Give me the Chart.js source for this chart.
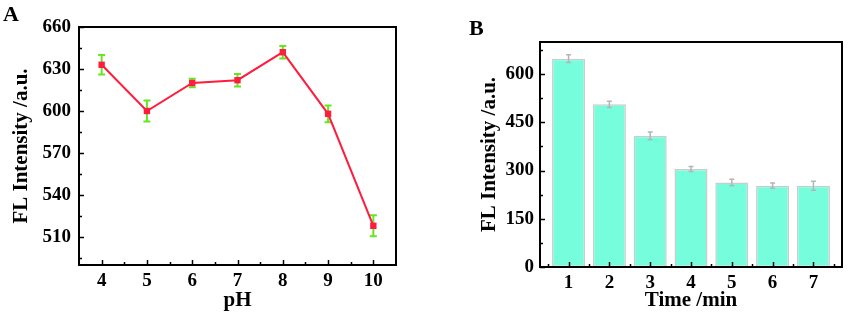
<!DOCTYPE html>
<html>
<head>
<meta charset="utf-8">
<script src="https://cdn.jsdelivr.net/npm/chart.js@4.4.0/dist/chart.umd.min.js"></script>
<style>
  body { margin: 0; background: #fff; }
  #wrap { position: relative; width: 848px; height: 315px; }
  canvas { position: absolute; top: 0; }
</style>
</head>
<body>
<div id="wrap">
  <canvas id="chartA" width="424" height="315" style="left:0"></canvas>
  <canvas id="chartB" width="424" height="315" style="left:424px"></canvas>
</div>
<script>
// panel A: pH
var phValues = [4, 5, 6, 7, 8, 9, 10];
var phIntensity = [633, 600, 620, 622, 642, 598, 518];
var phError = [7, 7.5, 3, 4.5, 4.5, 6, 7.5];
var phYTicks = [510, 540, 570, 600, 630, 660];
var phXMinor = [4.5, 5.5, 6.5, 7.5, 8.5, 9.5];
var phYMinor = [495, 525, 555, 585, 615, 645];

// panel B: time
var timeValues = [1, 2, 3, 4, 5, 6, 7];
var timeIntensity = [648, 506, 408, 305, 263, 253, 253];
var timeError = [12, 10, 12, 8, 10, 8, 14];
var timeYTicks = [0, 150, 300, 450, 600];
var timeXMinor = [0.5, 1.5, 2.5, 3.5, 4.5, 5.5, 6.5, 7.5];
var timeYMinor = [75, 225, 375, 525, 675];

var serif = 'Liberation Serif';
var tickFont = { family: serif, size: 19, weight: 'bold' };
var titleFont = { family: serif, size: 21, weight: 'bold' };

// box around the plot, inward ticks, panel letter
var frame = {
  id: 'frame',
  afterDraw: function (chart, args, opts) {
    var ctx = chart.ctx, a = chart.chartArea;
    var x = chart.scales.x, y = chart.scales.y;
    ctx.save();
    ctx.strokeStyle = '#000';
    ctx.lineWidth = 1.5;
    ctx.beginPath();
    function xt(vals, len) {
      vals.forEach(function (v) {
        var px = Math.round(x.getPixelForValue(v)) + 0.5;
        ctx.moveTo(px, a.bottom); ctx.lineTo(px, a.bottom - len);
      });
    }
    function yt(vals, len) {
      vals.forEach(function (v) {
        var py = Math.round(y.getPixelForValue(v)) + 0.5;
        ctx.moveTo(a.left, py); ctx.lineTo(a.left + len, py);
      });
    }
    xt(opts.xMajor, 5); xt(opts.xMinor, 3);
    yt(opts.yMajor, 5); yt(opts.yMinor, 3);
    ctx.stroke();
    ctx.lineWidth = 2;
    ctx.strokeRect(a.left, a.top, a.right - a.left, a.bottom - a.top);
    ctx.fillStyle = '#000';
    ctx.font = 'bold 22px ' + serif;
    ctx.fillText(opts.tag, opts.tagX, opts.tagY);
    ctx.restore();
  }
};

function drawErrors(chart, opts) {
  var ctx = chart.ctx, y = chart.scales.y;
  var meta = chart.getDatasetMeta(0);
  var data = chart.data.datasets[0].data;
  ctx.save();
  ctx.strokeStyle = opts.color;
  ctx.lineWidth = opts.width;
  meta.data.forEach(function (el, i) {
    var v = data[i].y, e = opts.errors[i];
    var t = y.getPixelForValue(v + e), b = y.getPixelForValue(v - e);
    ctx.beginPath();
    ctx.moveTo(el.x, t); ctx.lineTo(el.x, b);
    ctx.moveTo(el.x - opts.cap, t); ctx.lineTo(el.x + opts.cap, t);
    ctx.moveTo(el.x - opts.cap, b); ctx.lineTo(el.x + opts.cap, b);
    ctx.stroke();
  });
  ctx.restore();
}

var errorBars = {
  id: 'errorBars',
  beforeDatasetsDraw: function (chart, args, opts) { if (opts.under) drawErrors(chart, opts); },
  afterDatasetsDraw: function (chart, args, opts) { if (!opts.under) drawErrors(chart, opts); }
};

function axisBase(ticks, fit, pad) {
  return {
    type: 'linear',
    offset: false,
    grid: { display: false, drawTicks: false, offset: false },
    border: { display: false },
    afterBuildTicks: function (s) { s.ticks = ticks.map(function (v) { return { value: v }; }); },
    afterFit: fit,
    ticks: { font: tickFont, color: '#000', padding: pad, maxRotation: 0, autoSkip: false }
  };
}

// ---- chart A ----
var xA = axisBase(phValues, function (s) { s.height = 50; }, 5);
xA.min = 3.5; xA.max = 10.5;
xA.title = { display: true, text: 'pH', font: titleFont, color: '#000', padding: { top: 0, bottom: 2 } };
var yA = axisBase(phYTicks, function (s) { s.width = 79; }, 8);
yA.min = 490; yA.max = 660;
yA.title = { display: true, text: 'FL Intensity /a.u.', font: titleFont, color: '#000', padding: { top: 9, bottom: 0 } };

new Chart(document.getElementById('chartA').getContext('2d'), {
  type: 'line',
  data: {
    datasets: [{
      data: phValues.map(function (v, i) { return { x: v, y: phIntensity[i] }; }),
      borderColor: '#ff1c3c',
      borderWidth: 2,
      backgroundColor: '#ff1c3c',
      pointStyle: 'rect',
      pointRadius: 4.5,
      pointBorderWidth: 0,
      tension: 0
    }]
  },
  options: {
    responsive: false,
    animation: false,
    layout: { padding: { left: 0, right: 28, top: 27, bottom: 0 } },
    plugins: {
      legend: { display: false },
      tooltip: { enabled: false },
      errorBars: { errors: phError, color: '#66e622', width: 2, cap: 3.5, under: true },
      frame: { xMajor: phValues, xMinor: phXMinor, yMajor: phYTicks, yMinor: phYMinor, tag: 'A', tagX: 3, tagY: 21 }
    },
    scales: { x: xA, y: yA }
  },
  plugins: [errorBars, frame]
});

// ---- chart B ----
var xB = axisBase(timeValues, function (s) { s.height = 48; }, 5);
xB.min = 0.3; xB.max = 7.7;
xB.title = { display: true, text: 'Time /min', font: titleFont, color: '#000', padding: { top: 0, bottom: 2 } };
var yB = axisBase(timeYTicks, function (s) { s.width = 66; }, 6);
yB.min = 0; yB.max = 700;
yB.title = { display: true, text: 'FL Intensity /a.u.', font: titleFont, color: '#000', padding: { top: 3, bottom: 0 } };

new Chart(document.getElementById('chartB').getContext('2d'), {
  type: 'bar',
  data: {
    datasets: [{
      data: timeValues.map(function (v, i) { return { x: v, y: timeIntensity[i] }; }),
      backgroundColor: '#76fedc',
      borderColor: '#cccccc',
      borderWidth: 1.5,
      borderSkipped: false,
      categoryPercentage: 1,
      barPercentage: 0.81
    }]
  },
  options: {
    responsive: false,
    animation: false,
    layout: { padding: { left: 50, right: 6, top: 42, bottom: 0 } },
    plugins: {
      legend: { display: false },
      tooltip: { enabled: false },
      errorBars: { errors: timeError, color: '#b5b5b5', width: 1.5, cap: 2.5, under: false },
      frame: { xMajor: timeValues, xMinor: timeXMinor, yMajor: timeYTicks, yMinor: timeYMinor, tag: 'B', tagX: 45, tagY: 35 }
    },
    scales: { x: xB, y: yB }
  },
  plugins: [errorBars, frame]
});
</script>
</body>
</html>
